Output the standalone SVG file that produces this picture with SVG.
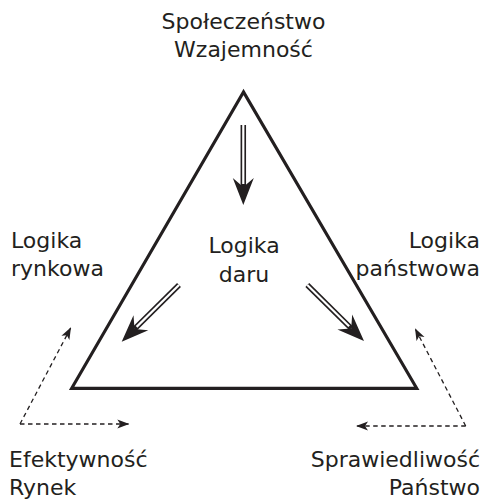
<svg xmlns="http://www.w3.org/2000/svg" width="483" height="500" viewBox="0 0 483 500">
<defs>
<style>
text{font-family:"DejaVu Sans","Liberation Sans",sans-serif;font-size:22px;fill:#231f20}
.mid{text-anchor:middle}
.end{text-anchor:end}
.tri{fill:none;stroke:#231f20;stroke-width:3.2;stroke-linejoin:miter}
.dbl{stroke:#231f20;stroke-width:5.5;fill:none}
.dblin{stroke:#fff;stroke-width:2.2;fill:none}
.dash{stroke:#231f20;stroke-width:1.3;stroke-dasharray:4.5 3.5;fill:none}
</style>
<marker id="big" markerUnits="userSpaceOnUse" markerWidth="28" markerHeight="22" viewBox="0 0 28 22" refX="9" refY="11" orient="auto">
<path d="M0,0.5 L27,11 L0,21.5 L9,11 Z" fill="#231f20"/>
</marker>
<marker id="small" markerUnits="userSpaceOnUse" markerWidth="13" markerHeight="10" viewBox="0 0 13 10" refX="12" refY="5" orient="auto">
<path d="M0,0.5 L12,5 L0,9.5 L3,5 Z" fill="#231f20"/>
</marker>
</defs>
<rect width="483" height="500" fill="#fff"/>
<g id="triangle">
<polygon class="tri" points="243.5,92 71.7,388.3 416.7,388.3"/>
</g>
<g id="node-top">
<text class="mid" x="243.5" y="29">Społeczeństwo</text>
<text class="mid" x="243.5" y="57">Wzajemność</text>
</g>
<g id="node-center">
<text class="mid" x="244" y="253">Logika</text>
<text class="mid" x="244" y="282">daru</text>
</g>
<g id="node-left">
<text x="11" y="248">Logika</text>
<text x="11" y="276">rynkowa</text>
</g>
<g id="node-right">
<text class="end" x="480" y="248">Logika</text>
<text class="end" x="480" y="276">państwowa</text>
</g>
<g id="node-bottom-left">
<text x="9" y="467">Efektywność</text>
<text x="9" y="495">Rynek</text>
</g>
<g id="node-bottom-right">
<text class="end" x="480" y="467">Sprawiedliwość</text>
<text class="end" x="480" y="495">Państwo</text>
</g>
<g id="connectors">
<g id="arrow-down">
<line class="dbl" x1="243.3" y1="125" x2="243.3" y2="187" marker-end="url(#big)"/>
<line class="dblin" x1="243.3" y1="125" x2="243.3" y2="184"/>
</g>
<g id="arrow-left">
<line class="dbl" x1="179" y1="285" x2="134.5" y2="329" marker-end="url(#big)"/>
<line class="dblin" x1="179" y1="285" x2="136.6" y2="326.9"/>
</g>
<g id="arrow-right">
<line class="dbl" x1="307.3" y1="285" x2="351.2" y2="328.4" marker-end="url(#big)"/>
<line class="dblin" x1="307.3" y1="285" x2="349.1" y2="326.3"/>
</g>
<g id="dash-left">
<line class="dash" x1="20" y1="424" x2="71" y2="327.3" marker-end="url(#small)"/>
<line class="dash" x1="20" y1="424" x2="129.3" y2="424" marker-end="url(#small)"/>
</g>
<g id="dash-right">
<line class="dash" x1="465.7" y1="426" x2="415" y2="328.3" marker-end="url(#small)"/>
<line class="dash" x1="465.7" y1="426" x2="356" y2="426" marker-end="url(#small)"/>
</g>
</g>
</svg>
